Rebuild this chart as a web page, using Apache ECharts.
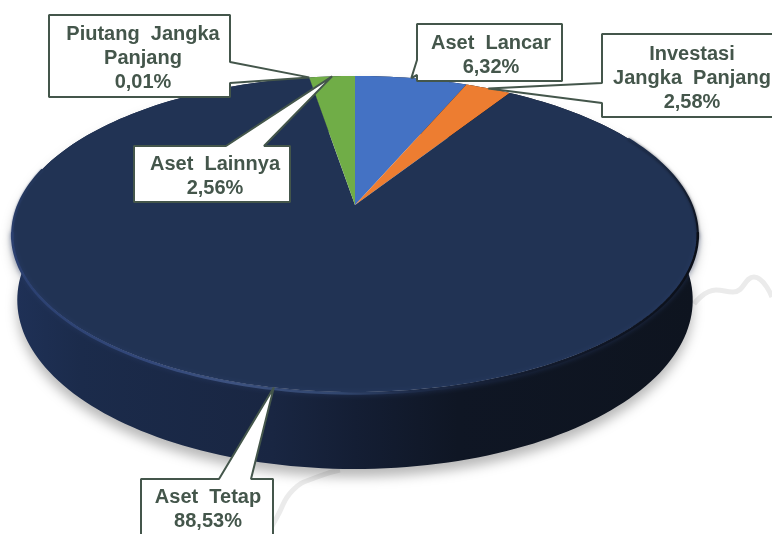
<!DOCTYPE html>
<html>
<head>
<meta charset="utf-8">
<title>Komposisi Aset</title>
<script src="https://cdn.jsdelivr.net/npm/echarts@6/dist/echarts.min.js"></script>
<style>
html,body{margin:0;padding:0;background:#fff;overflow:hidden}
#chart{width:772px;height:534px}
</style>
</head>
<body>
<div id="chart"></div>
<script>
// data, clockwise from 12 o'clock
var categories = ['Aset Lancar', 'Investasi\nJangka Panjang', 'Aset Tetap', 'Piutang Jangka\nPanjang', 'Aset Lainnya'];
var sliceValues = [6.32, 2.58, 88.53, 0.01, 2.56];
var sliceColors = ['#4472C4', '#ED7D31', '#213354', '#A5A5A5', '#70AD47'];

// faint line that sits behind the pie
var traceRightX = [694, 716, 733, 754, 772];
var traceRightY = [304, 290, 292, 277, 297];
var traceBottomX = [340, 317, 293, 277, 268];
var traceBottomY = [470, 477, 490, 517, 534];

// callout boxes: left, top, right, bottom, and the two feet of the pointer
var calloutBox = [
	[417, 24, 562, 81, [417, 60], [417, 75]],
	[602, 34, 790, 117, [602, 83], [602, 103]],
	[141, 479, 273, 560, [219, 479], [251, 479]],
	[49, 15, 230, 97, [230, 62], [230, 83]],
	[134, 146, 290, 202, [226, 146], [264, 146]]
];
var calloutTextX = [491, 692, 208, 143, 215];
var calloutTextY = [55, 78, 509, 58, 176];

// the tilted disc: a circle seen in perspective
var TILT = 0.1835;
var topFace = {cx: 355, cy: 205, a: 337, b: 152.7};
var baseFace = {cx: 355, cy: 269, a: 332, b: 163.3};
var rimFace = {cx: 355, cy: 205.5, a: 337, b: 153.5};

function project(face, deg){
	var t = deg * Math.PI / 180;
	var w = 1 + TILT * Math.cos(t);
	return [face.cx + face.a * Math.sin(t) / w, face.cy - face.b * Math.cos(t) / w];
}
function arc(face, from, to){
	var pts = [];
	var n = Math.max(2, Math.ceil(Math.abs(to - from) / 1.5));
	for (var i = 0; i <= n; i++){
		pts.push(project(face, from + (to - from) * i / n));
	}
	return pts;
}
function sliceAngles(idx){
	var total = 0, before = 0;
	for (var i = 0; i < sliceValues.length; i++){
		total += sliceValues[i];
		if (i < idx) before += sliceValues[i];
	}
	return [before / total * 360, (before + sliceValues[idx]) / total * 360];
}
function percentText(v){
	return v.toFixed(2).replace('.', ',') + '%';
}

function renderWall(params, api){
	var ang = sliceAngles(params.dataIndex);
	var pts = arc(topFace, ang[0], ang[1]).concat(arc(baseFace, ang[1], ang[0]));
	return {
		type: 'polygon',
		shape: {points: pts},
		style: {
			fill: new echarts.graphic.LinearGradient(12, 0, 698, 0, [
				{offset: 0, color: '#1f3157'},
				{offset: 0.1, color: '#1b2b4b'},
				{offset: 0.38, color: '#192642'},
				{offset: 0.5, color: '#141e34'},
				{offset: 0.65, color: '#0f1624'},
				{offset: 1, color: '#0e141f'}
			], true),
			shadowBlur: 12,
			shadowOffsetY: 8,
			shadowColor: 'rgba(0,0,0,0.28)'
		}
	};
}

function rimLine(from, to, stroke, width, blur, glow){
	return {
		type: 'polyline',
		shape: {points: arc(rimFace, from, to)},
		style: {fill: null, lineWidth: width, stroke: stroke, lineCap: 'round', shadowBlur: blur, shadowColor: glow}
	};
}

function renderTop(params, api){
	var ang = sliceAngles(params.dataIndex);
	var children = [{
		type: 'polygon',
		shape: {points: arc(topFace, ang[0], ang[1]).concat([[topFace.cx, topFace.cy]])},
		style: {fill: sliceColors[params.dataIndex]}
	}];
	// bevel on the rim, only where the big slice faces the viewer
	if (ang[1] - ang[0] > 180){
		// upper right: goes dark towards the widest point
		children.push(rimLine(62, 102, new echarts.graphic.LinearGradient(0, 130, 0, 240, [
			{offset: 0, color: '#213354'},
			{offset: 1, color: '#0b0f18'}
		], true), 2, 3, 'rgba(10,14,24,0.6)'));
		// upper left: goes light towards the widest point
		children.push(rimLine(284, 258, new echarts.graphic.LinearGradient(0, 170, 0, 240, [
			{offset: 0, color: '#213354'},
			{offset: 1, color: '#2b4070'}
		], true), 2, 2, 'rgba(43,64,112,0.6)'));
		// front
		children.push(rimLine(100, 260, new echarts.graphic.LinearGradient(12, 0, 698, 0, [
			{offset: 0, color: '#2b4070'},
			{offset: 0.2, color: '#33487a'},
			{offset: 0.32, color: '#3d5280'},
			{offset: 0.48, color: '#31466e'},
			{offset: 0.58, color: '#1e2c4a'},
			{offset: 0.72, color: '#141d31'},
			{offset: 1, color: '#0b0f18'}
		], true), 2.5, 5, 'rgba(44,64,110,0.7)'));
	}
	return {type: 'group', children: children};
}

function renderCallout(params, api){
	var i = params.dataIndex;
	var ang = sliceAngles(i);
	var tip = project(topFace, (ang[0] + ang[1]) / 2);
	var b = calloutBox[i];
	var corners = [[b[0], b[1]], [b[2], b[1]], [b[2], b[3]], [b[0], b[3]]];
	var f1 = b[4], f2 = b[5], pts;
	// walk the box and drop the pointer in on the side its feet sit on
	if (f1[1] === b[1]) pts = [corners[0], f1, tip, f2, corners[1], corners[2], corners[3]];
	else if (f1[0] === b[2]) pts = [corners[0], corners[1], f1, tip, f2, corners[2], corners[3]];
	else pts = [corners[0], corners[1], corners[2], corners[3], f2, tip, f1];
	return {
		type: 'group',
		children: [{
			type: 'polygon',
			shape: {points: pts},
			style: {fill: '#fff', stroke: '#44564b', lineWidth: 2, lineJoin: 'bevel'}
		}, {
			type: 'text',
			style: {
				text: categories[i].replace(/ /g, '  ') + '\n' + percentText(api.value(0)),
				x: calloutTextX[i],
				y: calloutTextY[i],
				align: 'center',
				verticalAlign: 'middle',
				lineHeight: 24,
				fontFamily: '"Liberation Sans", Arial, sans-serif',
				fontWeight: 'bold',
				fontSize: 20,
				fill: '#44564b'
			}
		}]
	};
}

function zipXY(xs, ys){
	var out = [];
	for (var i = 0; i < xs.length; i++) out.push([xs[i], ys[i]]);
	return out;
}

var traceStyle = {color: '#ebebeb', width: 5};
var myChart = echarts.init(document.getElementById('chart'), null, {renderer: 'canvas'});
myChart.setOption({
	animation: false,
	backgroundColor: '#fff',
	grid: {left: 0, right: 0, top: 0, bottom: 0},
	xAxis: {type: 'value', min: 0, max: 772, show: false},
	yAxis: {type: 'value', min: 0, max: 534, inverse: true, show: false},
	series: [
		{type: 'line', data: zipXY(traceRightX, traceRightY), smooth: true, symbol: 'none', silent: true, z: 1, lineStyle: traceStyle},
		{type: 'line', data: zipXY(traceBottomX, traceBottomY), smooth: true, symbol: 'none', silent: true, z: 1, lineStyle: traceStyle},
		{type: 'custom', coordinateSystem: 'none', data: sliceValues, renderItem: renderWall, silent: true, z: 2},
		{type: 'custom', coordinateSystem: 'none', data: sliceValues, renderItem: renderTop, silent: true, z: 3},
		{type: 'custom', coordinateSystem: 'none', data: sliceValues, renderItem: renderCallout, silent: true, z: 4}
	]
});
</script>
</body>
</html>
